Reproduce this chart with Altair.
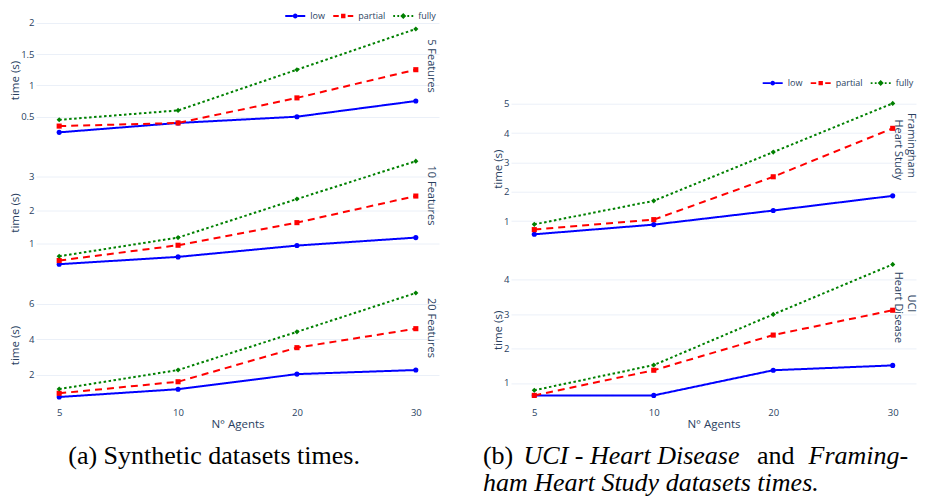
import math
import altair as alt
import pandas as pd

# ---------------- data ----------------
agents = ["5", "10", "20", "30"]
series = ["low", "partial", "fully"]
colors = ["blue", "red", "green"]

syn5_low = [0.25, 0.40, 0.50, 0.75]
syn5_partial = [0.35, 0.40, 0.80, 1.25]
syn5_fully = [0.45, 0.60, 1.25, 1.90]

syn10_low = [0.37, 0.59, 0.93, 1.17]
syn10_partial = [0.48, 0.94, 1.62, 2.42]
syn10_fully = [0.61, 1.17, 2.33, 3.47]

syn20_low = [0.74, 1.18, 2.03, 2.26]
syn20_partial = [0.95, 1.60, 3.52, 4.59]
syn20_fully = [1.19, 2.26, 4.41, 6.60]

fram_low = [0.55, 0.88, 1.36, 1.86]
fram_partial = [0.71, 1.05, 2.51, 4.16]
fram_fully = [0.89, 1.69, 3.35, 5.01]

uci_low = [0.64, 0.64, 1.37, 1.51]
uci_partial = [0.64, 1.37, 2.39, 3.11]
uci_fully = [0.79, 1.52, 2.99, 4.44]

left_labels = [["5 Features"], ["10 Features"], ["20 Features"]]
right_labels = [["Framingham", "Heart Study"], ["UCI", "Heart Disease"]]

ticks_syn5 = [0.5, 1, 1.5, 2]
ticks_syn10 = [1, 2, 3]
ticks_syn20 = [2, 4, 6]
ticks_fram = [1, 2, 3, 4, 5]
ticks_uci = [1, 2, 3, 4]

x_title = "N° Agents"
y_title = "time (s)"

caption_a = "(a) Synthetic datasets times."
caption_b = ["(b)", "UCI - Heart Disease", "and", "Framing-",
             "ham Heart Study datasets times."]

# ---------------- styling ----------------
FONT = "Open Sans"
TXT = "#2a3f5f"
GRID = "#EBF0F8"
SERIF = "Liberation Serif"

dash_range = [[1, 0], [7, 5], [2.5, 2.5]]
marker_range = ["circle", "square", "diamond"]


def bar(a, b, t=0.18):
    return f"M{a},{-t}H{b}V{t}H{a}Z "


def polygon_circle(r, n=16):
    pts = [(r * math.cos(2 * math.pi * k / n), r * math.sin(2 * math.pi * k / n))
           for k in range(n)]
    return "M" + "L".join(f"{px:.3f},{py:.3f}" for px, py in pts) + "Z"


legend_paths = [
    bar(-2, -0.48) + bar(0.48, 2) + polygon_circle(0.48),
    bar(-2, -0.9) + bar(0.9, 2) + "M-0.44,-0.44H0.44V0.44H-0.44Z",
    bar(-2, -1.64) + bar(-1.18, -0.82) + bar(0.82, 1.18) + bar(1.64, 2)
    + "M0,-0.6L0.6,0L0,0.6L-0.6,0Z",
]


def frame(low, partial, fully):
    rows = []
    for s, vals in zip(series, [low, partial, fully]):
        for a, v in zip(agents, vals):
            rows.append({"agents": a, "series": s, "time": v})
    return pd.DataFrame(rows)


def label_layer(text, x, y):
    return alt.Chart(pd.DataFrame({"label": [text]})).mark_text(
        angle=90, align="center", baseline="middle", font=FONT, fontSize=11,
        color=TXT
    ).encode(text="label:N", x=alt.value(x), y=alt.value(y))


def panel(df, ydom, yticks, label_lines, w, h, title_x, label_pos, bottom,
          legend_xy=None):
    if bottom:
        x_axis = alt.Axis(title=x_title, labelAngle=0, labelPadding=2.5,
                          titlePadding=1)
    else:
        x_axis = alt.Axis(title=None, labels=False)
    x = alt.X("agents:O", sort=agents,
              scale=alt.Scale(type="point", padding=0.195), axis=x_axis)
    y = alt.Y("time:Q",
              scale=alt.Scale(domain=ydom, nice=False, zero=False),
              axis=alt.Axis(values=yticks, format="~g", title=y_title,
                            titleX=title_x, titleY=h / 2,
                            titleBaseline="middle", titleAngle=270,
                            labelPadding=2))
    color = alt.Color("series:N", scale=alt.Scale(domain=series, range=colors),
                      legend=None)
    base = alt.Chart(df)
    lines = base.mark_line(strokeWidth=2).encode(
        x=x, y=y, color=color,
        strokeDash=alt.StrokeDash("series:N",
                                  scale=alt.Scale(domain=series, range=dash_range),
                                  legend=None))
    pts = base.mark_point(filled=True, size=26, opacity=1).encode(
        x=x, y=y, color=color,
        shape=alt.Shape("series:N",
                        scale=alt.Scale(domain=series, range=marker_range),
                        legend=None))
    layers = [lines, pts]
    for txt, (dx, ly) in zip(label_lines, label_pos):
        layers.append(label_layer(txt, w - dx, ly))
    if legend_xy is not None:
        leg = alt.Legend(orient="none", legendX=legend_xy[0],
                         legendY=legend_xy[1], direction="horizontal",
                         title=None, symbolSize=100, labelFont=FONT,
                         labelFontSize=9, labelColor=TXT, labelOffset=10,
                         columnPadding=8, padding=0, symbolStrokeWidth=0)
        legend_layer = base.transform_filter("false").mark_point(
            filled=True, opacity=1
        ).encode(
            fill=alt.Fill("series:N", scale=alt.Scale(domain=series, range=colors),
                          legend=leg),
            shape=alt.Shape("series:N",
                            scale=alt.Scale(domain=series, range=legend_paths),
                            legend=leg),
        )
        layers.append(legend_layer)
    return alt.layer(*layers).resolve_scale(
        shape="independent", fill="independent"
    ).properties(width=w, height=h)


def indep(c):
    return c.resolve_scale(color="independent", shape="independent",
                           fill="independent", strokeDash="independent")


WL = 403
WR = 405

p1 = panel(frame(syn5_low, syn5_partial, syn5_fully), [0.128, 2.043], ticks_syn5,
           left_labels[0], WL, 120, -21, [(8, 46)], False,
           legend_xy=(254.25, -9))
p2 = panel(frame(syn10_low, syn10_partial, syn10_fully), [0.12, 3.73], ticks_syn10,
           left_labels[1], WL, 120, -21, [(8, 43)], False)
p3 = panel(frame(syn20_low, syn20_partial, syn20_fully), [0.29, 7.05], ticks_syn20,
           left_labels[2], WL, 120, -21, [(8, 43)], True)
left_fig = indep(alt.vconcat(p1, p2, p3, spacing=12.5))

spacer = alt.Chart(pd.DataFrame({"v": [0]})).mark_text(text="").encode(
    x=alt.value(0), y=alt.value(0)).properties(width=WR, height=47)
r1 = panel(frame(fram_low, fram_partial, fram_fully), [0.23, 5.34], ticks_fram,
           right_labels[0], WR, 150, -12.5, [(5.5, 51.7), (17.8, 56)], False,
           legend_xy=(256.7, -15.6))
r2 = panel(frame(uci_low, uci_partial, uci_fully), [0.35, 4.73], ticks_uci,
           right_labels[1], WR, 151, -12.5, [(5.5, 49), (17.8, 53)], True)
right_fig = indep(alt.vconcat(spacer, r1, r2, spacing=10.7))

figs = indep(alt.hconcat(left_fig, right_fig, spacing=53))


def cap_text(txt, x, y, italic):
    return alt.Chart(pd.DataFrame({"t": [txt]})).mark_text(
        align="left", baseline="alphabetic", font=SERIF, fontSize=26,
        fontStyle="italic" if italic else "normal", color="black"
    ).encode(text="t:N", x=alt.value(x), y=alt.value(y))


CX = 35.75  # caption chart origin (page x)
Y1, Y2 = 33.5, 60.5
captions = alt.layer(
    cap_text(caption_a, 68 - CX, Y1, False),
    cap_text(caption_b[0], 482.7 - CX, Y1, False),
    cap_text(caption_b[1], 523.3 - CX, Y1, True),
    cap_text(caption_b[2], 756.7 - CX, Y1, False),
    cap_text(caption_b[3], 808.3 - CX, Y1, True),
    cap_text(caption_b[4], 482.7 - CX, Y2, True),
).properties(width=860, height=64)

chart = indep(alt.vconcat(figs, captions, spacing=0)).properties(
    padding={"left": 1, "top": 3, "right": 0, "bottom": 0})

chart = chart.configure(font=FONT).configure_view(stroke=None).configure_axis(
    gridColor=GRID, gridWidth=1, domain=False, ticks=False,
    labelFont=FONT, labelFontSize=9.5, labelColor=TXT,
    titleFont=FONT, titleFontSize=11.5, titleColor=TXT, titleFontWeight="normal"
)

chart.save("out.html", embed_options={"renderer": "svg", "actions": False})
